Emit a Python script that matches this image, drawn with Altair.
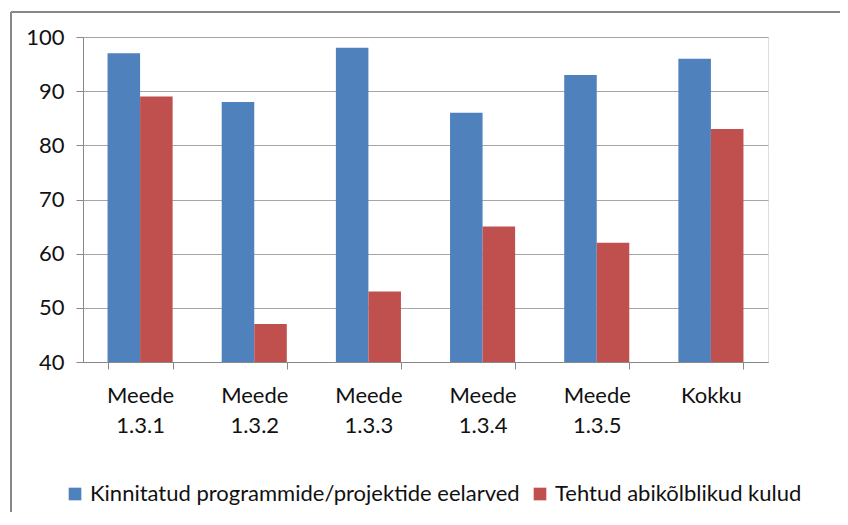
import altair as alt
import pandas as pd

categories = ["Meede 1.3.1", "Meede 1.3.2", "Meede 1.3.3", "Meede 1.3.4", "Meede 1.3.5", "Kokku"]
series_names = ["Kinnitatud programmide/projektide eelarved", "Tehtud abikõlblikud kulud"]
approved = [97, 88, 98, 86, 93, 96]
spent = [89, 47, 53, 65, 62, 83]
colors = ["#4F81BD", "#C0504D"]
y_ticks = [40, 50, 60, 70, 80, 90, 100]

rows = []
for c, a, s in zip(categories, approved, spent):
    rows.append({"cat": c, "series": series_names[0], "value": a})
    rows.append({"cat": c, "series": series_names[1], "value": s})
df = pd.DataFrame(rows)

FONT = "Lato"

bars = alt.Chart(df).mark_bar().encode(
    x=alt.X("cat:N", sort=categories,
            scale=alt.Scale(paddingInner=0.43, paddingOuter=0.215),
            axis=alt.Axis(title=None, labelAngle=0, grid=False, tickBand="extent",
                          labelExpr="split(datum.label, ' ')", labelLineHeight=30,
                          labelPadding=16, tickSize=7, domainColor="#888888",
                          tickColor="#888888", labelFontSize=22, labelColor="#111111",
                          labelFont=FONT, labelBaseline="top")),
    xOffset=alt.XOffset("series:N", sort=series_names,
                        scale=alt.Scale(paddingInner=0, paddingOuter=0)),
    y=alt.Y("value:Q", scale=alt.Scale(domain=[40, 100], zero=False, nice=False),
            axis=alt.Axis(title=None, values=y_ticks, grid=True, gridColor="#A6A6A6",
                          domainColor="#888888", tickColor="#888888", tickSize=7,
                          labelPadding=12, labelFontSize=22, labelColor="#111111",
                          labelFont=FONT)),
    y2=alt.datum(40),
    color=alt.Color("series:N", sort=series_names,
                    scale=alt.Scale(domain=series_names, range=colors),
                    legend=alt.Legend(title=None, orient="none", legendX=-19, legendY=446,
                                      direction="horizontal", symbolType="square",
                                      symbolSize=160, symbolStrokeWidth=0,
                                      labelFontSize=22, labelFont=FONT, labelColor="#111111",
                                      labelLimit=0, columnPadding=9, labelOffset=4)),
)

frame = alt.Data(values=[{}])
left_border = alt.Chart(frame).mark_rule(color="#888888", strokeWidth=2).encode(
    x=alt.value(-72), y=alt.value(-25), y2=alt.value(490))
top_border = alt.Chart(frame).mark_rule(color="#888888", strokeWidth=2).encode(
    x=alt.value(-72), x2=alt.value(780), y=alt.value(-25))

chart = alt.layer(bars, left_border, top_border).properties(
    width=685, height=325,
    autosize=alt.AutoSizeParams(type="none"),
    padding={"left": 75, "top": 29, "right": 72, "bottom": 150},
).configure_view(stroke=None).configure(font=FONT)

chart.save("out.html", embed_options={"renderer": "svg", "actions": False})
